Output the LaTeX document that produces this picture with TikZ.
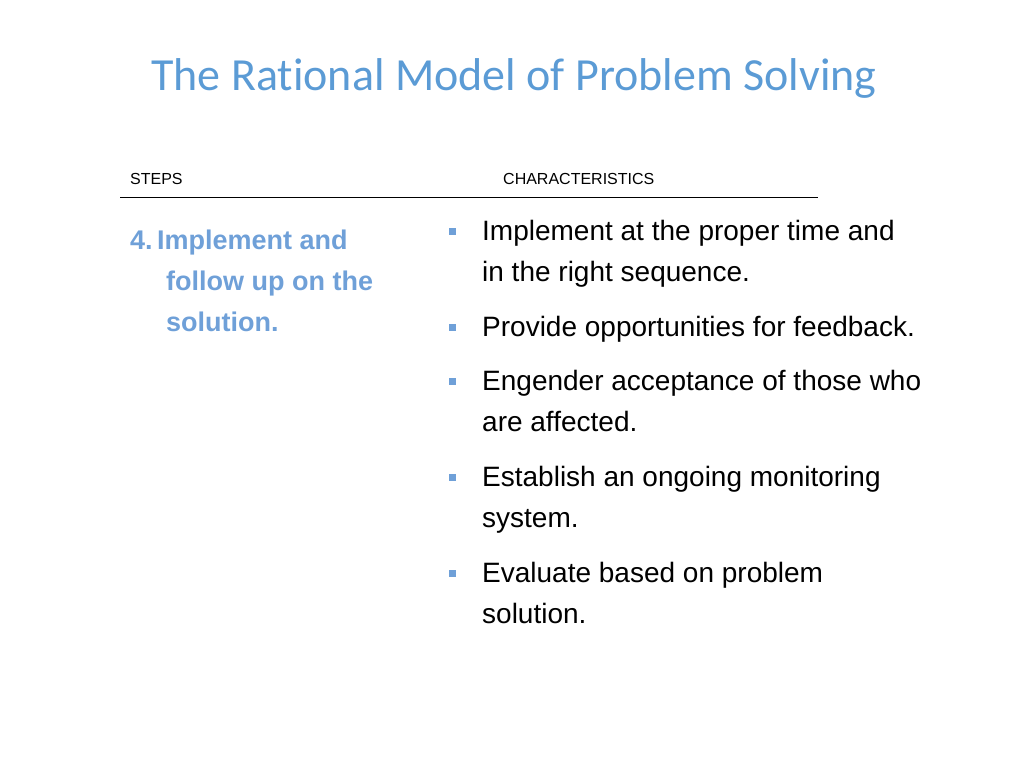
\documentclass[tikz,border=0pt]{standalone}
\usepackage{fontspec}
\setmainfont{Liberation Sans}
\newfontfamily\titlefont[Ligatures=NoCommon]{Carlito}
\definecolor{tblue}{HTML}{5B9BD5}
\definecolor{sblue}{HTML}{6FA0D8}
\begin{document}
\begin{tikzpicture}[x=1pt,y=-1pt,
  body/.style={anchor=base west,inner sep=0,font=\fontsize{28}{32}\selectfont},
  bul/.style={fill=sblue,minimum size=7pt,inner sep=0}]
\useasboundingbox (0,0) rectangle (1024,768);
\node[font=\titlefont\fontsize{46}{52}\selectfont,text=tblue,anchor=base] (title) at (514,90) {The Rational Model of Problem Solving};
\node[anchor=base west,inner sep=0,font=\fontsize{16}{18}\selectfont] (steps) at (130,184) {STEPS};
\node[anchor=base west,inner sep=0,font=\fontsize{16}{18}\selectfont] (chars) at (503,184) {CHARACTERISTICS};
\coordinate (l1) at (120,197); \coordinate (l2) at (818,197);
\draw[line width=1pt] (l1) -- (l2);
\begin{scope}[every node/.style={anchor=base west,inner sep=0,font=\bfseries\fontsize{27}{32}\selectfont,text=sblue}]
\node (s1) at (130,249) {4.\,Implement and};
\node (s2) at (166,290) {follow up on the};
\node (s3) at (166,331) {solution.};
\end{scope}
\foreach \y/\n in {231/a,327/b,381/c,477/d,573/e}{\node[bul] (b\n) at (452,\y) {};}
\node[body] (t1) at (482,240) {Implement at the proper time and};
\node[body] (t2) at (482,281) {in the right sequence.};
\node[body] (t3) at (482,336) {Provide opportunities for feedback.};
\node[body] (t4) at (482,390) {Engender acceptance of those who};
\node[body] (t5) at (482,431) {are affected.};
\node[body] (t6) at (482,486) {Establish an ongoing monitoring};
\node[body] (t7) at (482,527) {system.};
\node[body] (t8) at (482,582) {Evaluate based on problem};
\node[body] (t9) at (482,623) {solution.};
\end{tikzpicture}
\end{document}
